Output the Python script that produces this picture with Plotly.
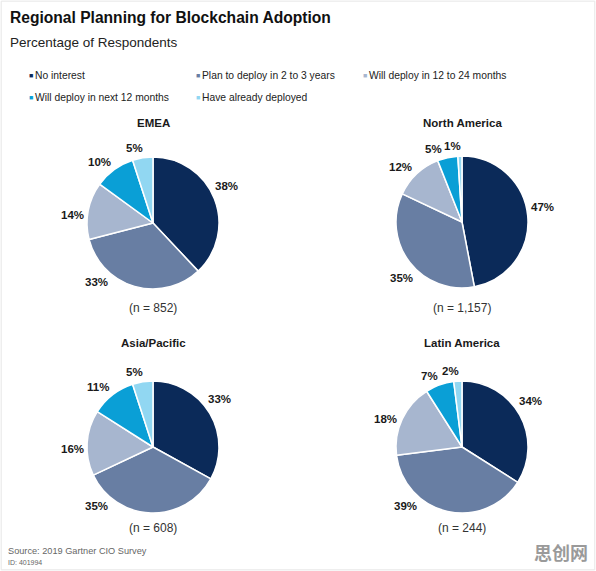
import math
import plotly.graph_objects as go

W, H = 596, 571

categories = ["No interest", "Plan to deploy in 2 to 3 years", "Will deploy in 12 to 24 months",
              "Will deploy in next 12 months", "Have already deployed"]
colors = ["#0b2a59", "#687ea3", "#a7b6cf", "#0a9fd6", "#91d7f2"]

regions = ["EMEA", "North America", "Asia/Pacific", "Latin America"]
n_labels = ["(n = 852)", "(n = 1,157)", "(n = 608)", "(n = 244)"]
emea = [38, 33, 14, 10, 5]
north_america = [47, 35, 12, 5, 1]
asia_pacific = [33, 35, 16, 11, 5]
latin_america = [34, 39, 18, 7, 2]
values = [emea, north_america, asia_pacific, latin_america]

# pixel layout of pie centres (x, y) and radius
centers = [(153, 223), (462, 222), (153, 447), (462, 447)]
R = 66
GAP = 3
LBL_H = 13

FONT = "Liberation Sans, Arial, sans-serif"

fig = go.Figure()
ann = []


def px(x, y, text, size=12, color="#1a1a1a", bold=False, xanchor="center", yanchor="middle", family=FONT):
    ann.append(dict(x=x / W, y=1 - y / H, xref="paper", yref="paper", text=text, showarrow=False,
                    xanchor=xanchor, yanchor=yanchor,
                    font=dict(family=family, size=size, color=color, weight="bold" if bold else "normal")))


def label_box(cx, cy, ang, w):
    t = math.radians(ang)
    s, c = math.sin(t), math.cos(t)
    d = R + GAP + abs(s) * w / 2 + abs(c) * LBL_H / 2
    x, y = cx + d * s, cy - d * c
    return x, y, (x - w / 2, y - LBL_H / 2, x + w / 2, y + LBL_H / 2)


def overlaps(a, b, pad=2):
    return not (a[2] + pad <= b[0] or b[2] + pad <= a[0] or a[3] + pad <= b[1] or b[3] + pad <= a[1])


for i, (reg, vals) in enumerate(zip(regions, values)):
    cx, cy = centers[i]
    fig.add_trace(go.Pie(
        labels=categories, values=vals, sort=False, direction="clockwise", rotation=0,
        marker=dict(colors=colors, line=dict(color="white", width=1.5)),
        textinfo="none",
        domain=dict(x=[(cx - R) / W, (cx + R) / W], y=[1 - (cy + R) / H, 1 - (cy - R) / H]),
        showlegend=False, hoverinfo="label+percent", name=reg,
    ))
    # outside data labels placed near each slice's mid angle, nudged to avoid collisions
    total = sum(vals)
    angles = []
    cum = 0
    for v in vals:
        ang = 360 * (cum + v / 2) / total - 5
        cum += v
        if 150 <= ang <= 220:  # keep clear of the (n = ...) caption below the pie
            ang = 224
        angles.append(ang)
    placed = []
    for k in range(len(vals) - 1, -1, -1):
        txt = f"{vals[k]}%"
        w = 6.4 * (len(txt) - 1) + 10.2
        ang = angles[k]
        x, y, box = label_box(cx, cy, ang, w)
        while any(overlaps(box, b) for b in placed):
            ang -= 1
            x, y, box = label_box(cx, cy, ang, w)
        placed.append(box)
        px(x, y, txt, size=11.5, bold=True)

title_y = [123, 123, 343, 343]
n_y = [308, 308, 528, 528]
for i, reg in enumerate(regions):
    cx, cy = centers[i]
    px(cx, title_y[i], reg, size=11.5, bold=True)
    px(cx, n_y[i], n_labels[i], size=12, color="#333333")

px(8, 18, "Regional Planning for Blockchain Adoption", size=15.6, color="#111111", bold=True, xanchor="left")
px(8, 43, "Percentage of Respondents", size=13.5, color="#222222", xanchor="left")

# legend built from categories
leg_pos = [(27, 75), (194, 75), (361, 75), (27, 98), (194, 98)]
for (lx, ly), cat, col in zip(leg_pos, categories, colors):
    px(lx, ly, "■", size=7, color=col, xanchor="left")
    px(lx + 6, ly, cat, size=10.3, color="#222222", xanchor="left")

px(6, 551, "Source: 2019 Gartner CIO Survey", size=9.2, color="#666666", xanchor="left")
px(6, 562, "ID: 401994", size=7, color="#666666", xanchor="left")
px(590, 552, "思创网", size=18, color="#9a9a9a", bold=True, xanchor="right", family="Noto Sans CJK SC")

fig.update_layout(
    width=W, height=H, margin=dict(l=0, r=0, t=0, b=0),
    paper_bgcolor="white", plot_bgcolor="white",
    annotations=ann,
    shapes=[dict(type="rect", xref="paper", yref="paper", x0=0.002, y0=0.002, x1=0.998, y1=0.998,
                 line=dict(color="#e6e6e6", width=1))],
)
fig.write_html("out.html")
